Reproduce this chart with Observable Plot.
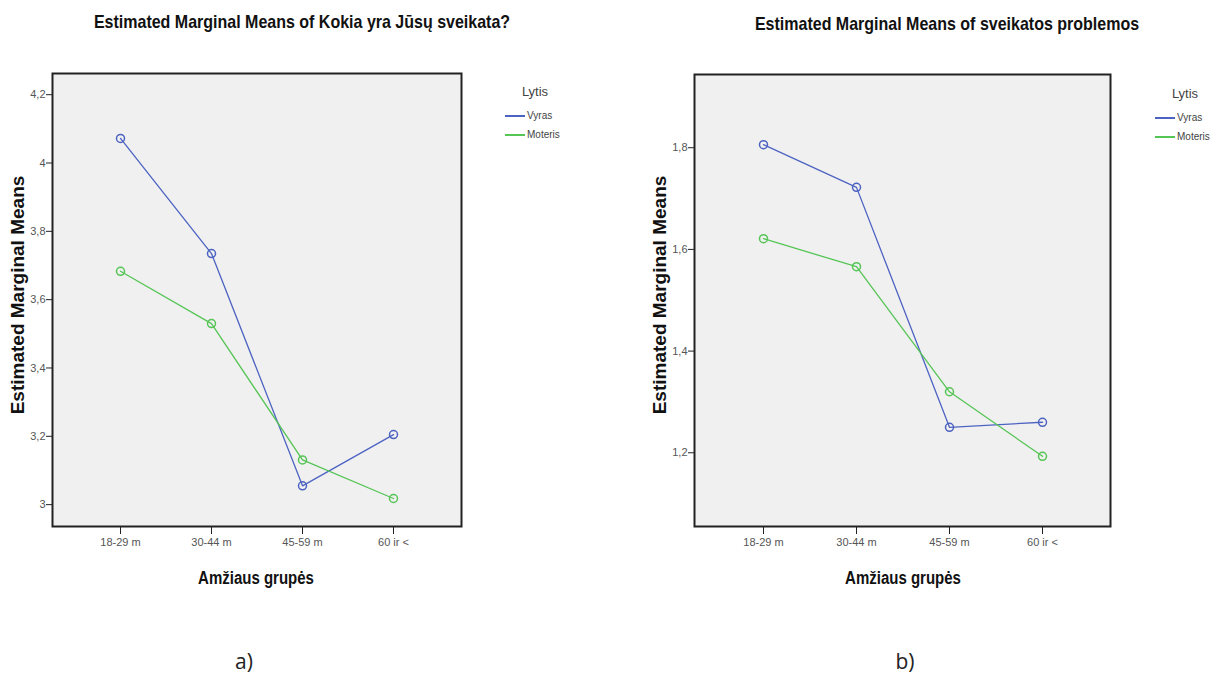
<!DOCTYPE html>
<html>
<head>
<meta charset="utf-8">
<script src="https://cdn.jsdelivr.net/npm/d3@7"></script>
<script src="https://cdn.jsdelivr.net/npm/@observablehq/plot@0.6"></script>
<style>
  html, body { margin: 0; padding: 0; background: #fff; }
  #root { position: relative; width: 1222px; height: 677px; overflow: hidden; font-family: "Liberation Sans", Arial, sans-serif; }
  .abs { position: absolute; white-space: nowrap; }
  .c { transform: translate(-50%, -50%); }
  .title { font-weight: bold; font-size: 16px; color: #111; transform: translate(-50%, -50%) scaleY(1.2); }
  .ylab { font-weight: bold; font-size: 19px; color: #111; transform: translate(-50%, -50%) rotate(-90deg); }
  .xlab { font-weight: bold; font-size: 15px; color: #111; transform: translate(-50%, -50%) scaleY(1.2); }
  .leg-title { font-size: 13px; color: #444; }
  .leg-item { font-size: 10px; color: #444; font-family: "Liberation Sans Narrow", "Arial Narrow", "Liberation Sans", sans-serif; display: flex; align-items: center; }
  .leg-item span.sw { display: inline-block; width: 20px; height: 2px; margin-right: 2px; }
  .cap { font-size: 21px; color: #222; font-family: "Open Sans", "Liberation Sans", sans-serif; }
  .plot { position: absolute; top: 0; }
  .plot g[aria-label="y-axis tick label"] text, .plot g[aria-label="x-axis tick label"] text { fill: #555; }
</style>
</head>
<body>
<div id="root"></div>
<script>
// ---- data ----
const ageGroups = ["18-29 m", "30-44 m", "45-59 m", "60 ir <"];
const sexes = ["Vyras", "Moteris"];
const healthVyras = [4.072, 3.735, 3.055, 3.205];
const healthMoteris = [3.683, 3.530, 3.131, 3.018];
const problemsVyras = [1.806, 1.722, 1.250, 1.260];
const problemsMoteris = [1.621, 1.566, 1.320, 1.193];
const yTicksA = [3, 3.2, 3.4, 3.6, 3.8, 4, 4.2];
const yTicksB = [1.2, 1.4, 1.6, 1.8];
const titleA = "Estimated Marginal Means of Kokia yra Jūsų sveikata?";
const titleB = "Estimated Marginal Means of sveikatos problemos";
const yLabel = "Estimated Marginal Means";
const xLabel = "Amžiaus grupės";
const legendTitle = "Lytis";
const captions = ["a)", "b)"];
const colors = ["#4d63c2", "#55c555"];

function rows(v, m) {
  const out = [];
  ageGroups.forEach((a, i) => out.push({age: a, sex: sexes[0], value: v[i]}));
  ageGroups.forEach((a, i) => out.push({age: a, sex: sexes[1], value: m[i]}));
  return out;
}
const fmt = d => String(d).replace(".", ",");

function makePlot(data, opts) {
  return Plot.plot({
    width: opts.width,
    height: 560,
    marginLeft: opts.ml,
    marginRight: opts.mr,
    marginTop: opts.mt,
    marginBottom: 560 - 526,
    style: {fontFamily: '"Liberation Sans Narrow", "Arial Narrow", "Liberation Sans", sans-serif', fontSize: "11px", background: "transparent", color: "#222"},
    x: {type: "point", domain: ageGroups, padding: opts.pad},
    y: {domain: opts.ydom},
    color: {domain: sexes, range: colors},
    marks: [
      Plot.frame({fill: "#f0f0f0", stroke: "none"}),
      Plot.line(data, {x: "age", y: "value", z: "sex", stroke: "sex", strokeWidth: 1.3}),
      Plot.dot(data, {x: "age", y: "value", stroke: "sex", fill: "none", r: 4, strokeWidth: 1.5}),
      Plot.frame({stroke: "#222", strokeWidth: 2}),
      Plot.axisY({ticks: opts.yticks, tickFormat: fmt, tickSize: 6, tickPadding: 1, label: null}),
      Plot.axisX({tickSize: 8, tickPadding: 4, label: null})
    ]
  });
}

const root = document.getElementById("root");
function addText(cls, text, x, y) {
  const d = document.createElement("div");
  d.className = "abs " + cls;
  d.textContent = text;
  d.style.left = x + "px";
  d.style.top = y + "px";
  root.appendChild(d);
  return d;
}
function addLegend(x, y) {
  addText("leg-title c", legendTitle, x + 30, y);
  sexes.forEach((s, i) => {
    const d = document.createElement("div");
    d.className = "abs leg-item";
    d.style.left = x + "px";
    d.style.top = (y + 19 + i * 19) + "px";
    d.innerHTML = `<span class="sw" style="background:${colors[i]}"></span>${s}`;
    root.appendChild(d);
  });
}

const pA = makePlot(rows(healthVyras, healthMoteris), {width: 480, ml: 52, mr: 19, mt: 73, ydom: [2.936, 4.262], yticks: yTicksA, pad: 0.73});
pA.classList.add("plot");
pA.style.left = "0px";
root.appendChild(pA);

const pB = makePlot(rows(problemsVyras, problemsMoteris), {width: 500, ml: 54, mr: 30, mt: 74, ydom: [1.055, 1.944], yticks: yTicksB, pad: 0.72});
pB.classList.add("plot");
pB.style.left = "640px";
root.appendChild(pB);

addText("title c", titleA, 302, 22);
addText("title c", titleB, 947, 24);
addText("ylab", yLabel, 18, 295);
addText("ylab", yLabel, 660, 295);
addText("xlab c", xLabel, 256, 577);
addText("xlab c", xLabel, 903, 577);
addLegend(505, 91);
addLegend(1155, 93);
addText("cap c", captions[0], 244, 661);
addText("cap c", captions[1], 905, 661);
</script>
</body>
</html>
